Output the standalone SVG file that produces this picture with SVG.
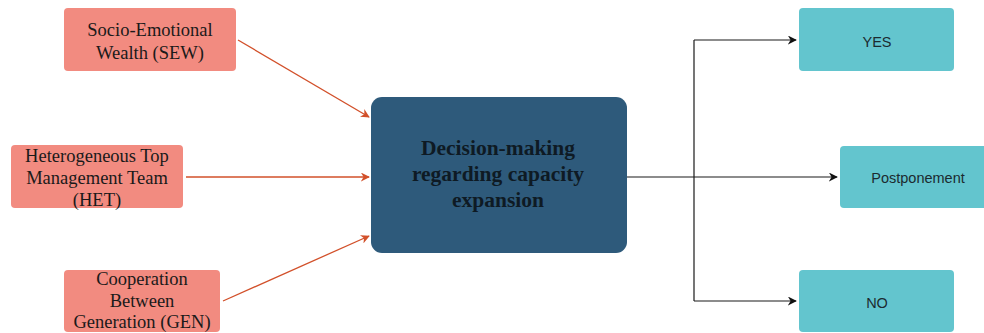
<svg xmlns="http://www.w3.org/2000/svg" width="984" height="333" viewBox="0 0 984 333">
  <style>
    .factor { fill: #f28b80; }
    .outcome { fill: #63c5ce; }
    .core { fill: #2e5a7b; }
    .serif { font-family: "Liberation Serif", "Times New Roman", serif; font-size: 18.5px; fill: #1a1a1a; text-anchor: middle; }
    .bold { font-family: "Liberation Serif", "Times New Roman", serif; font-size: 21.5px; font-weight: bold; fill: #0e1a24; text-anchor: middle; }
    .sans { font-family: "Liberation Sans", Arial, sans-serif; font-size: 14.5px; fill: #1c2b30; text-anchor: middle; }
    .in { stroke: #d2502a; stroke-width: 1.3; fill: none; marker-end: url(#arrowOrange); }
    .out { stroke: #1a1a1a; stroke-width: 1.2; fill: none; }
  </style>
  <defs>
    <marker id="arrowOrange" viewBox="0 0 10 10" refX="9" refY="5" markerWidth="9" markerHeight="9" markerUnits="userSpaceOnUse" orient="auto">
      <path d="M0,0 L10,5 L0,10 L3,5 Z" fill="#d2502a"/>
    </marker>
    <marker id="arrowBlack" viewBox="0 0 10 10" refX="9" refY="5" markerWidth="9" markerHeight="9" markerUnits="userSpaceOnUse" orient="auto">
      <path d="M0,0 L10,5 L0,10 L3,5 Z" fill="#111"/>
    </marker>
  </defs>

  <g id="connectors">
    <path class="in" d="M238,40 L369,117"/>
    <path class="in" d="M186,177 L369,177"/>
    <path class="in" d="M223,301 L369,236"/>
    <path class="out" d="M627,177 L837,177" marker-end="url(#arrowBlack)"/>
    <path class="out" d="M694,40 L694,301"/>
    <path class="out" d="M694,40 L796,40" marker-end="url(#arrowBlack)"/>
    <path class="out" d="M694,301 L796,301" marker-end="url(#arrowBlack)"/>
  </g>

  <g id="sew">
    <rect class="factor" x="64" y="8" width="172" height="63" rx="4"/>
    <text class="serif" x="150" y="36">Socio-Emotional</text>
    <text class="serif" x="150" y="59">Wealth (SEW)</text>
  </g>

  <g id="het">
    <rect class="factor" x="11" y="145" width="172" height="63" rx="4"/>
    <text class="serif" x="97" y="162">Heterogeneous Top</text>
    <text class="serif" x="97" y="184">Management Team</text>
    <text class="serif" x="97" y="206">(HET)</text>
  </g>

  <g id="gen">
    <rect class="factor" x="64" y="270" width="156" height="62" rx="4"/>
    <text class="serif" x="142" y="285">Cooperation</text>
    <text class="serif" x="142" y="307">Between</text>
    <text class="serif" x="142" y="328">Generation (GEN)</text>
  </g>

  <g id="decision">
    <rect class="core" x="371" y="97" width="256" height="156" rx="11"/>
    <text class="bold" x="498" y="155">Decision-making</text>
    <text class="bold" x="498" y="181">regarding capacity</text>
    <text class="bold" x="498" y="207">expansion</text>
  </g>

  <g id="yes">
    <rect class="outcome" x="799" y="8" width="155" height="63" rx="4"/>
    <text class="sans" x="877" y="47">YES</text>
  </g>

  <g id="postponement">
    <rect class="outcome" x="840" y="146" width="150" height="62" rx="4"/>
    <text class="sans" x="918" y="183">Postponement</text>
  </g>

  <g id="no">
    <rect class="outcome" x="799" y="270" width="155" height="62" rx="4"/>
    <text class="sans" x="877" y="308">NO</text>
  </g>
</svg>
